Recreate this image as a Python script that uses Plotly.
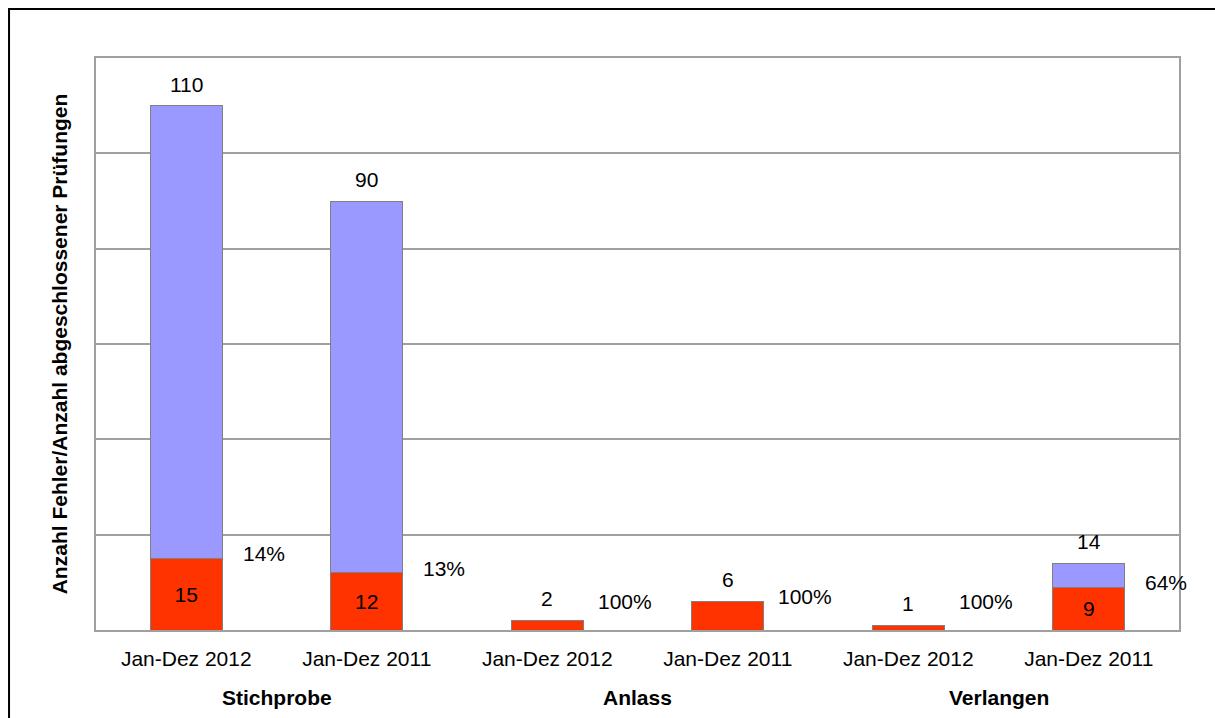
import plotly.graph_objects as go

# Data
groups = ["Stichprobe", "Anlass", "Verlangen"]
periods = ["Jan-Dez 2012", "Jan-Dez 2011", "Jan-Dez 2012", "Jan-Dez 2011", "Jan-Dez 2012", "Jan-Dez 2011"]
totals = [110, 90, 2, 6, 1, 14]          # abgeschlossene Prüfungen
errors = [15, 12, 2, 6, 1, 9]            # davon mit Fehlern
percent_labels = ["14%", "13%", "100%", "100%", "100%", "64%"]

FONT = "Liberation Sans, Arial, sans-serif"
FS = 21
RED = "#FF3300"
BLUE = "#9999FF"
GRID = "#A0A0A0"

xs = list(range(len(periods)))
rest = [t - e for t, e in zip(totals, errors)]

fig = go.Figure()
fig.add_trace(go.Bar(
    x=xs, y=errors, width=0.4,
    marker=dict(color=RED, line=dict(color="#808080", width=1)),
    text=[str(e) if r > 0 else "" for e, r in zip(errors, rest)],
    textposition="inside", insidetextanchor="middle",
    textfont=dict(family=FONT, size=FS, color="black"),
    hoverinfo="skip", showlegend=False,
))
fig.add_trace(go.Bar(
    x=xs, y=rest, width=0.4,
    marker=dict(color=BLUE, line=dict(color="#808080", width=1)),
    hoverinfo="skip", showlegend=False,
))

annotations = []
# totals above each bar
for x, t in zip(xs, totals):
    annotations.append(dict(x=x, y=t, text=str(t), showarrow=False,
                            yanchor="bottom", yshift=8,
                            font=dict(family=FONT, size=FS, color="black")))
# error share to the right of each bar
for x, e, p in zip(xs, errors, percent_labels):
    annotations.append(dict(x=x + 0.43, y=max(e, 5) + 1, text=p, showarrow=False,
                            xanchor="center", yanchor="middle",
                            font=dict(family=FONT, size=FS, color="black")))
# group labels under each pair of periods
for i, g in enumerate(groups):
    annotations.append(dict(x=2 * i + 0.5, y=0, yref="paper", text="<b>" + g + "</b>",
                            showarrow=False, yanchor="middle", yshift=-67,
                            font=dict(family=FONT, size=FS, color="black")))

fig.update_layout(
    width=1215, height=718,
    margin=dict(l=96, r=36, t=58, b=88),
    paper_bgcolor="white", plot_bgcolor="white",
    barmode="stack", bargap=0.6,
    annotations=annotations,
    shapes=[dict(type="rect", xref="paper", yref="paper",
                 x0=-0.0803, x1=1.2, y0=-0.4, y1=1.0857,
                 line=dict(color="black", width=2), layer="below")],
)
fig.update_xaxes(
    range=[-0.5, 5.5], tickvals=xs, ticktext=periods,
    tickfont=dict(family=FONT, size=FS, color="black"),
    showgrid=False, ticks="", ticklabelstandoff=9,
    showline=True, linecolor=GRID, linewidth=2, mirror=True,
)
fig.update_yaxes(
    range=[0, 120], dtick=20, showticklabels=False,
    showgrid=True, gridcolor=GRID, gridwidth=2, zeroline=False,
    showline=True, linecolor=GRID, linewidth=2, mirror=True,
    title=dict(text="<b>Anzahl Fehler/Anzahl abgeschlossener Prüfungen</b>",
               font=dict(family=FONT, size=FS, color="black"), standoff=21),
)

fig.write_html("out.html")
